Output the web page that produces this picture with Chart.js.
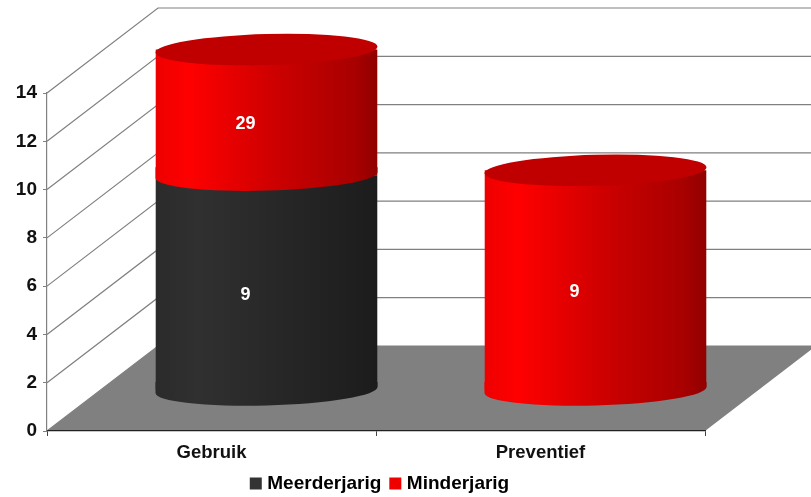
<!DOCTYPE html>
<html>
<head>
<meta charset="utf-8">
<title>Gebruik / Preventief</title>
<script src="https://cdn.jsdelivr.net/npm/chart.js@4"></script>
<style>
  body { margin: 0; background: #fff; }
  canvas { display: block; }
</style>
</head>
<body>
<canvas id="myChart" width="811" height="497"></canvas>
<script>
'use strict';

// data
let categories = ['Gebruik', 'Preventief'];
let seriesNames = ['Meerderjarig', 'Minderjarig'];
let meerderjarig = [8.9, null];
let minderjarig = [5.2, 9.1];
// the printed labels do not follow the bar heights in the original
let meerderjarigLabels = ['9', ''];
let minderjarigLabels = ['29', '9'];
let yTicks = [0, 2, 4, 6, 8, 10, 12, 14];

// look of the fake 3d
let wall = { dx: 111, dy: -85 };
let barShift = { dx: 55, dy: -41 };
let labelShift = { dx: 34, dy: -29 };
let ellipseHeight = 15.5;
let tilt = -0.027;
let fontName = '"Liberation Sans", Arial, sans-serif';

let darkStops = [[0, '#2b2b2b'], [0.2, '#303030'], [0.6, '#262626'], [1, '#1c1c1c']];
let redStops = [[0, '#ee0000'], [0.15, '#ff0000'], [0.55, '#cc0000'], [0.9, '#a80000'], [1, '#900000']];
let capColor = '#c00000';

// gradient across one cylinder
function barGradient(chart, index, stops) {
  let xScale = chart.scales.x;
  let center = xScale.getPixelForValue(index);
  let half = (xScale.width / categories.length) * 0.675 / 2;
  let grad = chart.ctx.createLinearGradient(center - half, 0, center + half, 0);
  stops.forEach(s => grad.addColorStop(s[0], s[1]));
  return grad;
}

// lower half of the ellipse, with a bit of body above it to close the seam
function halfEllipse(ctx, x, y, w, fill) {
  ctx.beginPath();
  ctx.ellipse(x, y, w / 2, ellipseHeight, tilt, 0, Math.PI);
  ctx.lineTo(x - w / 2, y - 8);
  ctx.lineTo(x + w / 2, y - 8);
  ctx.closePath();
  ctx.fillStyle = fill;
  ctx.fill();
}

let fake3d = {
  id: 'fake3d',
  afterLayout(chart) {
    // legend is centred a bit right of the plot
    chart.legend.left = 0;
    chart.legend.right = 763;
    chart.legend.top = 462;
  },
  beforeDraw(chart) {
    let ctx = chart.ctx;
    let area = chart.chartArea;
    let y = chart.scales.y;
    let zero = y.getPixelForValue(0);

    // floor
    ctx.save();
    ctx.fillStyle = '#808080';
    ctx.beginPath();
    ctx.moveTo(area.left, zero);
    ctx.lineTo(area.right, zero);
    ctx.lineTo(area.right + wall.dx, zero + wall.dy);
    ctx.lineTo(area.left + wall.dx, zero + wall.dy);
    ctx.closePath();
    ctx.fill();

    // gridlines: up the side wall, then along the back wall
    ctx.strokeStyle = '#808080';
    ctx.lineWidth = 1.2;
    yTicks.forEach(t => {
      let py = y.getPixelForValue(t);
      ctx.beginPath();
      ctx.moveTo(area.left, py);
      ctx.lineTo(area.left + wall.dx, py + wall.dy);
      ctx.lineTo(chart.width, py + wall.dy);
      ctx.stroke();
    });
    ctx.restore();
  },
  beforeDatasetsDraw(chart) {
    let ctx = chart.ctx;
    let zero = chart.scales.y.getPixelForValue(0);
    ctx.save();
    ctx.translate(barShift.dx, barShift.dy);
    // cut the square bar corners at the tilted base
    ctx.save();
    ctx.beginPath();
    chart.getDatasetMeta(1).data.forEach(bar => {
      let rise = Math.tan(-tilt) * bar.width / 2;
      ctx.moveTo(bar.x - bar.width / 2, -200);
      ctx.lineTo(bar.x + bar.width / 2, -200);
      ctx.lineTo(bar.x + bar.width / 2, zero - rise);
      ctx.lineTo(bar.x - bar.width / 2, zero + rise);
      ctx.closePath();
    });
    ctx.clip();
  },
  afterDatasetsDraw(chart) {
    let ctx = chart.ctx;
    let zero = chart.scales.y.getPixelForValue(0);
    ctx.restore();

    categories.forEach((cat, i) => {
      let first = meerderjarig[i] !== null ? 0 : 1;
      let lowest = chart.getDatasetMeta(first).data[i];
      let stops = first === 0 ? darkStops : redStops;
      halfEllipse(ctx, lowest.x, zero, lowest.width, barGradient(chart, i, stops));

      // red segment bulges down over the dark one
      if (first === 0) {
        let mid = chart.getDatasetMeta(0).data[i];
        halfEllipse(ctx, mid.x, mid.y, mid.width, barGradient(chart, i, redStops));
      }
      let top = chart.getDatasetMeta(1).data[i];
      ctx.beginPath();
      ctx.ellipse(top.x, top.y, top.width / 2, ellipseHeight, tilt, 0, Math.PI * 2);
      ctx.fillStyle = capColor;
      ctx.fill();
    });
    ctx.restore();

    // value labels sit left of the cylinder centres
    ctx.save();
    ctx.font = 'bold 18px ' + fontName;
    ctx.fillStyle = '#ffffff';
    ctx.textAlign = 'center';
    ctx.textBaseline = 'middle';
    let labelSets = [meerderjarigLabels, minderjarigLabels];
    labelSets.forEach((texts, d) => {
      chart.getDatasetMeta(d).data.forEach((bar, i) => {
        if (texts[i] === '') return;
        let lower = d === 1 && meerderjarig[i] !== null ? meerderjarig[i] : 0;
        let upper = lower + (d === 0 ? meerderjarig[i] : minderjarig[i]);
        let mid = chart.scales.y.getPixelForValue((lower + upper) / 2);
        ctx.fillText(texts[i], bar.x + labelShift.dx, mid + labelShift.dy);
      });
    });
    ctx.restore();
  }
};

let ctx = document.getElementById('myChart').getContext('2d');

new Chart(ctx, {
  type: 'bar',
  data: {
    labels: categories,
    datasets: [
      {
        label: seriesNames[0],
        data: meerderjarig,
        clip: false,
        backgroundColor: c => barGradient(c.chart, c.dataIndex, darkStops)
      },
      {
        label: seriesNames[1],
        data: minderjarig,
        clip: false,
        backgroundColor: c => barGradient(c.chart, c.dataIndex, redStops)
      }
    ]
  },
  options: {
    responsive: false,
    animation: false,
    barPercentage: 0.675,
    categoryPercentage: 1,
    layout: { padding: { top: 93, right: 106, left: 0, bottom: -15 } },
    scales: {
      x: {
        stacked: true,
        border: { color: '#222222', width: 1.3 },
        grid: { drawOnChartArea: false, color: '#444444', tickLength: 5 },
        ticks: { color: '#111111', font: { family: fontName, size: 18.5, weight: 'bold' }, padding: 6, maxRotation: 0 },
        afterFit: s => { s.height = 40; }
      },
      y: {
        stacked: true,
        min: 0,
        max: 14,
        border: { color: '#808080', width: 1.2 },
        grid: { drawOnChartArea: false, color: '#808080', tickLength: 4 },
        ticks: { stepSize: 2, color: '#111111', font: { family: fontName, size: 19, weight: 'bold' }, padding: 6 },
        afterFit: s => { s.width = 47; }
      }
    },
    plugins: {
      tooltip: { enabled: false },
      legend: {
        position: 'bottom',
        labels: {
          color: '#111111',
          font: { family: fontName, size: 19, weight: 'bold' },
          usePointStyle: true,
          boxWidth: 4,
          boxHeight: 12,
          padding: 12,
          generateLabels: () => [
            { text: seriesNames[0], fillStyle: '#333333', strokeStyle: '#333333', lineWidth: 0, pointStyle: 'rect' },
            { text: seriesNames[1], fillStyle: '#ee0000', strokeStyle: '#ee0000', lineWidth: 0, pointStyle: 'rect' }
          ]
        }
      }
    }
  },
  plugins: [fake3d]
});
</script>
</body>
</html>
